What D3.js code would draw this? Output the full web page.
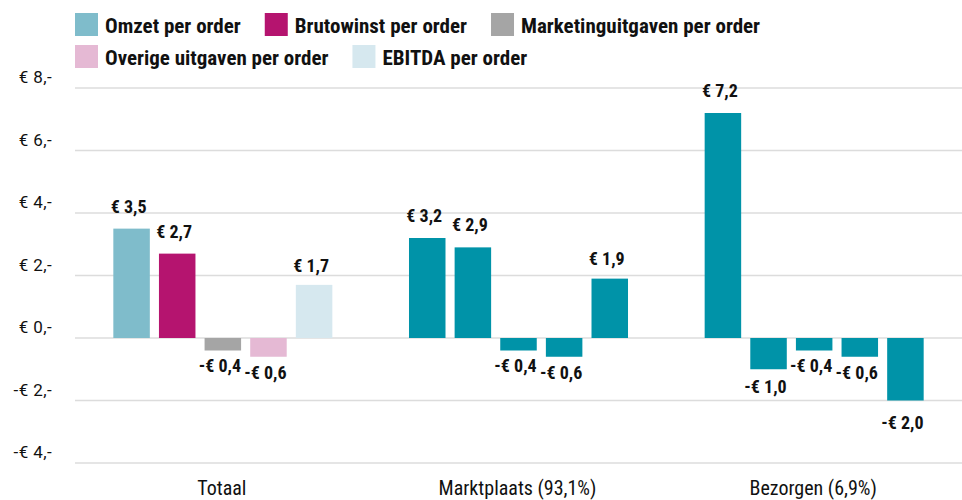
<!DOCTYPE html>
<html><head><meta charset="utf-8">
<script src="https://cdn.jsdelivr.net/npm/d3@7"></script>
<style>
body{margin:0;background:#fff;}
svg{display:block;}
text{font-family:"Roboto Condensed","Liberation Sans Narrow","DejaVu Sans Condensed",Roboto,sans-serif;font-stretch:condensed;}
text.ax{font-family:Roboto,"Liberation Sans",sans-serif;font-stretch:normal;}
</style></head>
<body><svg id="c" width="962" height="500"></svg>
<script>
const categories = ["Totaal", "Marktplaats (93,1%)", "Bezorgen (6,9%)"];
const seriesNames = ["Omzet per order", "Brutowinst per order", "Marketinguitgaven per order", "Overige uitgaven per order", "EBITDA per order"];
const omzet = [3.5, 3.2, 7.2];
const brutowinst = [2.7, 2.9, -1.0];
const marketing = [-0.4, -0.4, -0.4];
const overige = [-0.6, -0.6, -0.6];
const ebitda = [1.7, 1.9, -2.0];
const yTicks = [-4, -2, 0, 2, 4, 6, 8];
const legendColors = ["#7fbccb", "#b5146f", "#a5a5a5", "#e5b9d4", "#d6e8ef"];
const otherColor = "#0093a8";

const values = [omzet, brutowinst, marketing, overige, ebitda];
const svg = d3.select("#c");

const y = d3.scaleLinear().domain([-4, 8]).range([463, 88]);
// label placement scale (labels spread slightly more than bars)
const yLab = d3.scaleLinear().domain([0, 1]).range([0, 35.5]);
const x0 = d3.scaleBand().domain(categories).range([75, 962]);
const x1 = d3.scaleBand().domain(seriesNames).range([0, x0.bandwidth()]).paddingInner(0.2).paddingOuter(0.84);

// gridlines
svg.append("g").selectAll("line").data(yTicks).join("line")
  .attr("x1", 75).attr("x2", 962)
  .attr("y1", d => y(d)).attr("y2", d => y(d))
  .attr("stroke", "#dcdcdc").attr("stroke-width", 1.5);

// y labels
svg.append("g").selectAll("text").data(yTicks).join("text").attr("class", "ax")
  .attr("x", 52).attr("y", d => y(d) - 5)
  .attr("text-anchor", "end").attr("font-size", 17).attr("letter-spacing", 0.4).attr("fill", "#111")
  .text(d => (d < 0 ? "-" : "") + "€ " + Math.abs(d) + ",-");

const fmt = v => (v < 0 ? "-" : "") + "€ " + Math.abs(v).toFixed(1).replace(".", ",");

categories.forEach((cat, ci) => {
  const g = svg.append("g").attr("transform", `translate(${x0(cat)},0)`);
  const data = seriesNames.map((s, si) => ({s, si, v: values[si][ci]}));
  g.selectAll("rect").data(data).join("rect")
    .attr("x", d => x1(d.s)).attr("width", x1.bandwidth())
    .attr("y", d => y(Math.max(0, d.v)))
    .attr("height", d => Math.abs(y(d.v) - y(0)))
    .attr("fill", d => ci === 0 ? legendColors[d.si] : otherColor);
  g.selectAll("text.v").data(data).join("text").attr("class", "v")
    .attr("x", d => x1(d.s) + x1.bandwidth() / 2 - 3)
    .attr("y", d => d.v >= 0 ? Math.max(y(0) - 5.5 - yLab(d.v), y(d.v) - 16) : y(0) + 19.6 + yLab(-d.v))
    .attr("text-anchor", "middle").attr("font-size", 18).attr("font-weight", "bold").attr("fill", "#111")
    .text(d => fmt(d.v));
});

// category labels
svg.append("g").selectAll("text").data(categories).join("text")
  .attr("x", d => x0(d) + x0.bandwidth() / 2 - 1).attr("y", 495)
  .attr("text-anchor", "middle").attr("font-size", 20).attr("fill", "#111")
  .text(d => d);

// legend
const rows = [[0, 1, 2], [3, 4]];
rows.forEach((row, ri) => {
  let xPos = 75;
  row.forEach(i => {
    const g = svg.append("g").attr("transform", `translate(${xPos},${13 + ri * 32})`);
    g.append("rect").attr("width", 23).attr("height", 23).attr("fill", legendColors[i]);
    const t = g.append("text").attr("x", 30).attr("y", 20).attr("font-size", 21).attr("font-weight", "bold").attr("fill", "#111")
      .text(seriesNames[i]);
    xPos += 30 + t.node().getComputedTextLength() + 24;
  });
});
</script></body></html>
